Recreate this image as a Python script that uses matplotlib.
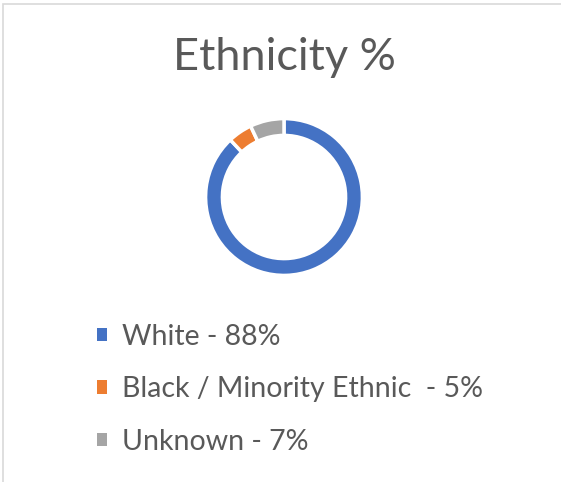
import matplotlib.pyplot as plt
from matplotlib.patches import Rectangle

labels = ["White - 88%", "Black / Minority Ethnic  - 5%", "Unknown - 7%"]
values = [88, 5, 7]
colors = ["#4472C4", "#ED7D31", "#A5A5A5"]

plt.rcParams['font.family'] = ['Lato', 'DejaVu Sans']

W, H = 561, 482
fig = plt.figure(figsize=(W / 100, H / 100), dpi=100)

# chart border (light gray, top and left visible)
fig.add_artist(Rectangle((2.5 / W, -0.01), 1.0, 1 - 3.5 / H + 0.01,
                         transform=fig.transFigure, fill=False,
                         edgecolor="#D9D9D9", linewidth=1.2))

fig.text(284 / W, 1 - 58 / H, "Ethnicity %", ha="center", va="center",
         fontsize=32.5, color="#595959")

# donut
cx, cy, r = 284, 197, 80
ax = fig.add_axes([(cx - r) / W, (H - cy - r) / H, 2 * r / W, 2 * r / H])
wedges, _ = ax.pie(values, colors=colors, startangle=90, counterclock=False,
                   radius=0.98, wedgeprops=dict(width=0.21, edgecolor="white",
                                                linewidth=2.5))
ax.set_xlim(-1, 1)
ax.set_ylim(-1, 1)
ax.set_aspect("equal")

# legend
leg = fig.legend(wedges, labels, loc="upper left",
                 bbox_to_anchor=(71 / W, 1 - 298 / H), frameon=False,
                 fontsize=20.5, labelcolor="#595959", handlelength=0.36,
                 handleheight=0.36, handletextpad=0.52, labelspacing=0.93)
for h in leg.legend_handles:
    h.set_edgecolor("none")

fig.savefig("out.png", dpi=100)
